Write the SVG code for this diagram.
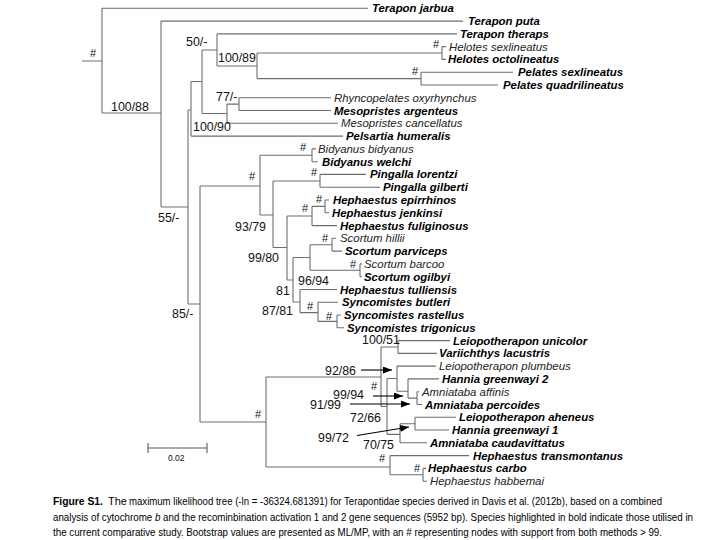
<svg xmlns="http://www.w3.org/2000/svg" width="720" height="540" viewBox="0 0 720 540">
<defs>
<style>
.tree{fill:none;stroke:#6e6e6e;stroke-width:1.1}
.arr{fill:none;stroke:#000;stroke-width:1.1}
.tb{font-family:"Liberation Sans",Arial,sans-serif;font-size:11.4px;font-weight:bold;font-style:italic;fill:#000}
.ti{font-family:"Liberation Sans",Arial,sans-serif;font-size:11.4px;font-style:italic;fill:#222}
.sp{font-family:"Liberation Sans",Arial,sans-serif;font-size:12.4px;fill:#111}
.hs{font-family:"Liberation Sans",Arial,sans-serif;font-size:11px;fill:#111}
.sc{font-family:"Liberation Sans",Arial,sans-serif;font-size:8.5px;fill:#111}
.cap{font-family:"Liberation Sans",Arial,sans-serif;font-size:10.2px;fill:#000}
.capb{font-family:"Liberation Sans",Arial,sans-serif;font-size:11px;font-weight:bold;fill:#000}
</style>
<marker id="ah" markerWidth="9" markerHeight="7" refX="9" refY="3.5" orient="auto" markerUnits="userSpaceOnUse"><path d="M0,0 L9,3.5 L0,7 z" fill="#000"/></marker>
</defs>
<rect width="720" height="540" fill="#fff"/>
<g id="connectors">
<path class="tree" d="M82,61 H102 M102,8.3 V113 M102,8.3 H368 M102,113 H161 M161,21.1 V207 M161,21.1 H463 M161,207 H188 M188,110 V304 M188,110 H191 M188,304 H200 M191,81.5 V136.1 M191,81.5 H202 M191,136.1 H343 M202,50 V113.5 M202,50 H217 M202,113.5 H227 M217,33.9 V66 M217,33.9 H457 M217,66 H257 M257,53 V78.6 M257,53 H442 M257,78.6 H421 M442,46.6 V59.4 M442,46.6 H446 M442,59.4 H446 M421,72.2 V85 M421,72.2 H513 M421,85 H498 M227,104.1 V123.3 M227,104.1 H239 M227,123.3 H338 M239,97.8 V110.5 M239,97.8 H331 M239,110.5 H331"/>
<path class="tree" d="M200,186 V422 M200,186 H260 M200,422 H266 M260,155.3 V215 M260,155.3 H312 M260,215 H273 M312,148.9 V161.7 M312,148.9 H316 M312,161.7 H318 M273,181 V247.5 M273,181 H320 M273,247.5 H287 M320,174.4 V187.2 M320,174.4 H366 M320,187.2 H380 M287,216 V280 M287,216 H312 M287,280 H293 M312,206.4 V225.6 M312,206.4 H325 M312,225.6 H337 M325,200 V212.8 M325,200 H329 M325,212.8 H329 M293,257.5 V302 M293,257.5 H310 M293,302 H300 M310,244.7 V270.3 M310,244.7 H332 M310,270.3 H360 M332,238.3 V251.1 M332,238.3 H336 M332,251.1 H342 M360,263.9 V276.7 M360,263.9 H362 M360,276.7 H362 M300,289.5 V312.6 M300,289.5 H337 M300,312.6 H318 M318,302.2 V321.4 M318,302.2 H338 M318,321.4 H337 M337,315 V327.8 M337,315 H341 M337,327.8 H344"/>
<path class="tree" d="M266,377 V467 M266,377 H381 M266,467 H390 M381,347 V406.5 M381,347 H398 M381,406.5 H387 M398,340.6 V353.4 M398,340.6 H450 M398,353.4 H437 M387,378.5 V434.4 M387,378.5 H397 M387,434.4 H400 M397,366.1 V391.3 M397,366.1 H436 M397,391.3 H408 M408,378.9 V398.1 M408,378.9 H439 M408,398.1 H417 M417,391.7 V404.5 M417,391.7 H419 M417,404.5 H422 M400,423.7 V442.8 M400,423.7 H415 M400,442.8 H427 M415,417.3 V430 M415,417.3 H456 M415,430 H449 M390,455.6 V474.8 M390,455.6 H469 M390,474.8 H423 M423,468.4 V481.2 M423,468.4 H426 M423,481.2 H427"/>
<path class="arr" d="M361,370 H392" marker-end="url(#ah)"/>
<path class="arr" d="M373,396 H403" marker-end="url(#ah)"/>
<path class="arr" d="M350,404 H410" marker-end="url(#ah)"/>
<path class="arr" d="M357,435.5 L409,427" marker-end="url(#ah)"/>
<path class="tree" d="M148,448 H207 M148,443 V453 M207,443 V453" style="stroke:#555"/>
</g>
<g id="tips">
<g id="t01"><text class="tb" x="372" y="12.3">Terapon jarbua</text></g>
<g id="t02"><text class="tb" x="468" y="25.1">Terapon puta</text></g>
<g id="t03"><text class="tb" x="460" y="37.9">Terapon theraps</text></g>
<g id="t04"><text class="ti" x="449" y="50.6">Helotes sexlineatus</text></g>
<g id="t05"><text class="tb" x="448" y="63.4">Helotes octolineatus</text></g>
<g id="t06"><text class="tb" x="518" y="76.2">Pelates sexlineatus</text></g>
<g id="t07"><text class="tb" x="503" y="89">Pelates quadrilineatus</text></g>
<g id="t08"><text class="ti" x="334" y="101.8">Rhyncopelates oxyrhynchus</text></g>
<g id="t09"><text class="tb" x="334" y="114.5">Mesopristes argenteus</text></g>
<g id="t10"><text class="ti" x="341" y="127.3">Mesopristes cancellatus</text></g>
<g id="t11"><text class="tb" x="346" y="140.1">Pelsartia humeralis</text></g>
<g id="t12"><text class="ti" x="318" y="152.9">Bidyanus bidyanus</text></g>
<g id="t13"><text class="tb" x="322" y="165.7">Bidyanus welchi</text></g>
<g id="t14"><text class="tb" x="370" y="178.4">Pingalla lorentzi</text></g>
<g id="t15"><text class="tb" x="383" y="191.2">Pingalla gilberti</text></g>
<g id="t16"><text class="tb" x="333" y="204">Hephaestus epirrhinos</text></g>
<g id="t17"><text class="tb" x="332" y="216.8">Hephaestus jenkinsi</text></g>
<g id="t18"><text class="tb" x="340" y="229.6">Hephaestus fuliginosus</text></g>
<g id="t19"><text class="ti" x="340" y="242.3">Scortum hillii</text></g>
<g id="t20"><text class="tb" x="345" y="255.1">Scortum parviceps</text></g>
<g id="t21"><text class="ti" x="364" y="267.9">Scortum barcoo</text></g>
<g id="t22"><text class="tb" x="364" y="280.7">Scortum ogilbyi</text></g>
<g id="t23"><text class="tb" x="340" y="293.5">Hephaestus tulliensis</text></g>
<g id="t24"><text class="tb" x="342" y="306.2">Syncomistes butleri</text></g>
<g id="t25"><text class="tb" x="344" y="319">Syncomistes rastellus</text></g>
<g id="t26"><text class="tb" x="347" y="331.8">Syncomistes trigonicus</text></g>
<g id="t27"><text class="tb" x="453" y="344.6">Leiopotherapon unicolor</text></g>
<g id="t28"><text class="tb" x="439" y="357.4">Variichthys lacustris</text></g>
<g id="t29"><text class="ti" x="439" y="370.1">Leiopotherapon plumbeus</text></g>
<g id="t30"><text class="tb" x="442" y="382.9">Hannia greenwayi 2</text></g>
<g id="t31"><text class="ti" x="422" y="395.7">Amniataba affinis</text></g>
<g id="t32"><text class="tb" x="425" y="408.5">Amniataba percoides</text></g>
<g id="t33"><text class="tb" x="459" y="421.3">Leiopotherapon aheneus</text></g>
<g id="t34"><text class="tb" x="452" y="434">Hannia greenwayi 1</text></g>
<g id="t35"><text class="tb" x="430" y="446.8">Amniataba caudavittatus</text></g>
<g id="t36"><text class="tb" x="473" y="459.6">Hephaestus transmontanus</text></g>
<g id="t37"><text class="tb" x="428" y="472.4">Hephaestus carbo</text></g>
<g id="t38"><text class="ti" x="430" y="485.2">Hephaestus habbemai</text></g>
</g>
<g id="supports">
<text class="hs" x="90" y="57">#</text>
<text class="sp" x="111" y="111">100/88</text>
<text class="sp" x="186" y="46">50/-</text>
<text class="sp" x="218" y="62">100/89</text>
<text class="hs" x="433" y="48">#</text>
<text class="hs" x="412" y="75">#</text>
<text class="sp" x="216" y="101">77/-</text>
<text class="sp" x="193" y="131">100/90</text>
<text class="sp" x="158" y="222">55/-</text>
<text class="hs" x="300" y="151">#</text>
<text class="hs" x="249" y="180">#</text>
<text class="hs" x="311" y="176">#</text>
<text class="hs" x="302" y="212">#</text>
<text class="hs" x="316" y="203">#</text>
<text class="sp" x="235" y="231">93/79</text>
<text class="sp" x="248" y="262">99/80</text>
<text class="hs" x="322" y="242">#</text>
<text class="hs" x="350" y="268">#</text>
<text class="sp" x="298" y="285">96/94</text>
<text class="sp" x="276" y="295">81</text>
<text class="sp" x="262" y="315">87/81</text>
<text class="hs" x="307" y="310">#</text>
<text class="hs" x="326" y="320">#</text>
<text class="sp" x="172" y="318">85/-</text>
<text class="hs" x="255" y="418">#</text>
<text class="sp" x="362" y="344">100/51</text>
<text class="sp" x="325" y="375">92/86</text>
<text class="hs" x="371" y="390">#</text>
<text class="sp" x="333" y="399">99/94</text>
<text class="sp" x="310" y="409">91/99</text>
<text class="sp" x="350" y="422">72/66</text>
<text class="sp" x="318" y="442">99/72</text>
<text class="sp" x="363" y="449">70/75</text>
<text class="hs" x="379" y="462">#</text>
<text class="hs" x="414" y="472">#</text>
<text class="sc" x="168" y="461">0.02</text>
</g>
<g id="caption">
<text class="capb" x="53" y="505" textLength="50" lengthAdjust="spacingAndGlyphs">Figure S1.</text>
<text class="cap" x="108" y="505" style="font-size:11px">The</text>
<text class="cap" x="129" y="505" textLength="533" lengthAdjust="spacingAndGlyphs">maximum likelihood tree (-ln = -36324.681391) for Terapontidae species  derived in Davis et al. (2012b), based on a combined</text>
<text class="cap" x="53" y="521" textLength="640" lengthAdjust="spacingAndGlyphs">analysis of cytochrome <tspan style="font-style:italic">b</tspan> and the recominbination activation 1 and 2 gene sequences (5952 bp).  Species highlighted in bold indicate those utilised in</text>
<text class="cap" x="53" y="536" textLength="609" lengthAdjust="spacingAndGlyphs">the current comparative study. Bootstrap values are presented as ML/MP, with an # representing nodes with support from both methods &gt; 99.</text>
</g>
</svg>
